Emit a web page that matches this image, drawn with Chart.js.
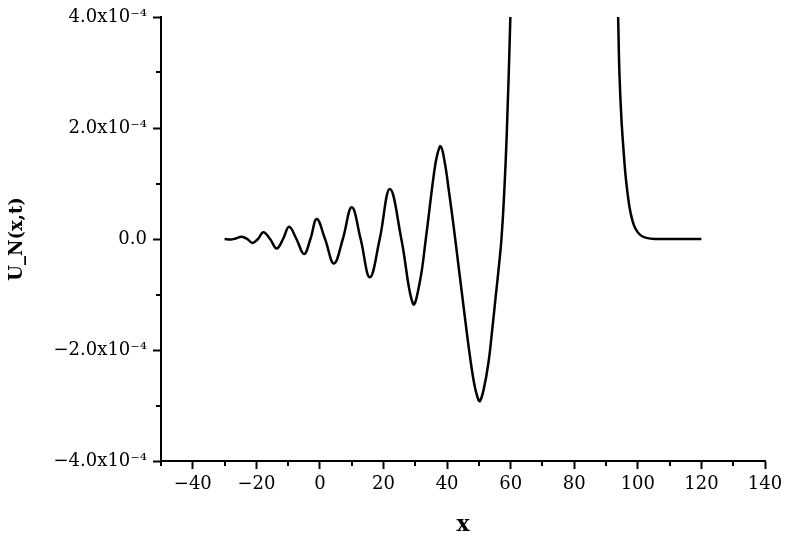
<!DOCTYPE html>
<html>
<head>
<meta charset="utf-8">
<script src="https://cdn.jsdelivr.net/npm/chart.js@4/dist/chart.umd.min.js"></script>
<style>
  html, body { margin: 0; padding: 0; background: #fff; }
  #wrap { width: 788px; height: 536px; position: relative; }
</style>
</head>
<body>
<div id="wrap"><canvas id="c" width="788" height="536"></canvas></div>
<script>
// Data (x positions and U_N values in units of 1e-4)
const xValues = [-30, -28, -26.5, -24.6, -22.9, -21.2, -19.5, -17.8, -15.7, -13.6, -11.6, -9.7, -7.4, -5.0, -3.0, -1.0,
  1.6, 4.4, 7.2, 10.0, 12.8, 15.7, 18.8, 22.0, 25.6, 29.3, 31.4, 33.3, 35.8, 36.9, 38.0,
  39.2, 40.6, 42.0, 43.3, 44.6, 45.9, 47.2, 48.5, 49.5, 50.3,
  51.5, 53.0, 54.2, 55.3, 56.4, 57.1, 57.9, 58.8, 59.9, 61, 62.5, 66, 72, 78, 84, 90, 92.5,
  93.8, 94.2, 94.8, 95.5, 96.3, 97.3, 98.3, 99.3, 100.8, 102.7, 105.9, 110, 115, 120];
const uValues = [0, -0.01, 0.01, 0.04, 0, -0.07, 0, 0.12, 0, -0.17, 0, 0.22, 0, -0.27, 0, 0.36,
  0, -0.44, 0, 0.57, 0, -0.69, 0, 0.90, 0, -1.17, -0.78, 0, 1.15, 1.52, 1.67,
  1.40, 0.85, 0.25, -0.35, -0.95, -1.55, -2.12, -2.60, -2.84, -2.92,
  -2.71, -2.23, -1.63, -1.03, -0.43, 0, 0.76, 1.95, 4.0, 6.5, 10, 20, 32, 36, 30, 14, 7,
  4.0, 3.0, 2.2, 1.6, 1.05, 0.6, 0.33, 0.18, 0.07, 0.02, 0, 0, 0, 0];
const SCALE = 1e-4;
const xTickValues = [-40, -20, 0, 20, 40, 60, 80, 100, 120, 140];
const yTickValues = [-4, -2, 0, 2, 4]; // in units of 1e-4

const points = xValues.map((x, i) => ({ x: x, y: uValues[i] * SCALE }));
const FONT = "'DejaVu Serif', 'Liberation Serif', serif";

function yLabel(v) {
  const n = Math.round(v / SCALE * 10) / 10;
  if (n === 0) return '0.0';
  const s = Math.abs(n).toFixed(1) + 'x10\u207B\u2074';
  return (n < 0 ? '\u2212' : '') + s;
}

const minorTicks = {
  id: 'minorTicks',
  afterDraw(chart) {
    const ctx = chart.ctx;
    const xs = chart.scales.x, ys = chart.scales.y;
    ctx.save();
    ctx.strokeStyle = '#000';
    ctx.lineWidth = 2;
    for (let v = -50; v <= 140; v += 10) {
      if (v % 20 === 0) continue;
      const px = Math.round(xs.getPixelForValue(v));
      ctx.beginPath();
      ctx.moveTo(px, xs.top);
      ctx.lineTo(px, xs.top + 5);
      ctx.stroke();
    }
    for (let k = -3; k <= 3; k += 2) {
      const py = Math.round(ys.getPixelForValue(k * SCALE));
      ctx.beginPath();
      ctx.moveTo(ys.right, py);
      ctx.lineTo(ys.right - 5, py);
      ctx.stroke();
    }
    ctx.restore();
  }
};

new Chart(document.getElementById('c'), {
  type: 'line',
  data: {
    datasets: [{
      data: points,
      borderColor: '#000',
      borderWidth: 2.5,
      pointRadius: 0,
      fill: false,
      tension: 0.4
    }]
  },
  options: {
    responsive: false,
    animation: false,
    devicePixelRatio: 1,
    layout: { padding: { top: 17, right: 23, left: 0, bottom: 0 } },
    plugins: { legend: { display: false }, tooltip: { enabled: false } },
    scales: {
      x: {
        type: 'linear',
        min: -50, max: 140,
        afterBuildTicks(scale) { scale.ticks = xTickValues.map(v => ({ value: v })); },
        afterFit(scale) { scale.height = 75; },
        border: { display: true, color: '#000', width: 2 },
        grid: { display: true, drawOnChartArea: false, tickLength: 8, tickWidth: 2, tickColor: '#000' },
        ticks: {
          color: '#000', padding: 5, maxRotation: 0, autoSkip: false,
          font: { family: FONT, size: 18 },
          callback: v => (v < 0 ? '\u2212' + Math.abs(v) : String(v))
        },
        title: { display: true, text: 'x', color: '#000', font: { family: FONT, size: 22, weight: 'bold', lineHeight: 1 }, padding: { top: 0, bottom: 0 } }
      },
      y: {
        type: 'linear',
        min: -4 * SCALE, max: 4 * SCALE,
        afterBuildTicks(scale) { scale.ticks = yTickValues.map(v => ({ value: v * SCALE })); },
        afterFit(scale) { scale.width = 161; },
        border: { display: true, color: '#000', width: 2 },
        grid: { display: true, drawOnChartArea: false, tickLength: 8, tickWidth: 2, tickColor: '#000' },
        ticks: {
          color: '#000', padding: 6, autoSkip: false,
          font: { family: FONT, size: 18 },
          callback: v => yLabel(v)
        },
        title: { display: true, text: 'U_N(x,t)', color: '#000', font: { family: FONT, size: 18, weight: 'bold', lineHeight: 1 }, padding: { top: 8, bottom: 0 } }
      }
    }
  },
  plugins: [minorTicks]
});
</script>
</body>
</html>
